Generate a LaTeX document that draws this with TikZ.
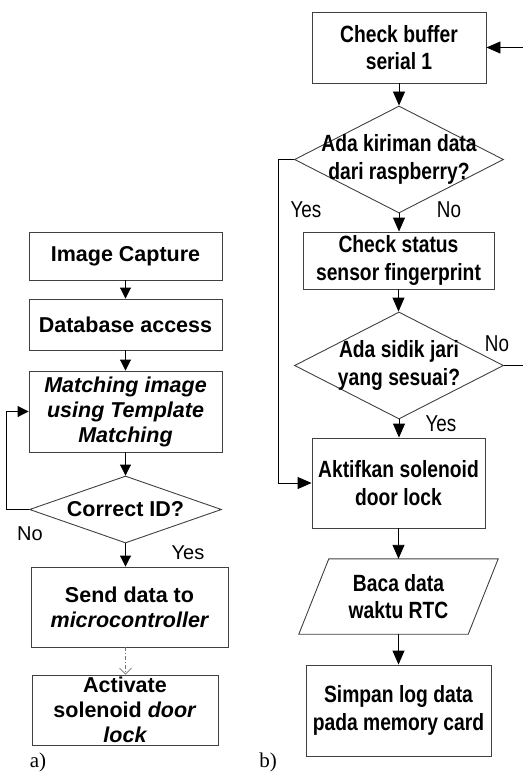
\documentclass[tikz,border=0pt]{standalone}
\usepackage{fontspec}
\setmainfont{Liberation Sans}
\newfontfamily\narrowf[FakeStretch=0.82]{Liberation Sans}
\newfontfamily\serf{Liberation Serif}
\usetikzlibrary{arrows.meta,shapes.geometric}
\begin{document}
\begin{tikzpicture}[x=1pt,y=-1pt,
  lfont/.style={font=\fontsize{21.5}{25}\selectfont\bfseries},
  rfont/.style={font=\narrowf\fontsize{23.5}{27.5}\selectfont\bfseries},
  lbox/.style={draw=black!75, line width=0.9pt, rectangle, inner sep=0pt, align=center, lfont},
  rbox/.style={draw=black!75, line width=0.9pt, rectangle, inner sep=0pt, align=center, rfont},
  dia/.style={draw=black!75, line width=0.9pt, diamond, inner sep=0pt},
  larr/.style={-{Triangle[length=11pt,width=11pt]}, line width=0.9pt},
  rarr/.style={-{Triangle[length=14pt,width=12pt]}, line width=0.9pt},
  plain/.style={line width=0.9pt},
  llab/.style={font=\fontsize{20}{24}\selectfont, inner sep=0pt},
  rlab/.style={font=\narrowf\fontsize{23}{27}\selectfont, inner sep=0pt},
  sublab/.style={font=\serf\fontsize{21}{25}\selectfont, inner sep=0pt}
]
\useasboundingbox (0,0) rectangle (523,784);

% ---------- left flowchart (a) ----------
\node[lbox, minimum width=193pt, minimum height=48pt] (cap) at (125.5,256) {Image Capture};
\node[lbox, minimum width=193pt, minimum height=51pt] (db) at (125.5,324.5) {Database access};
\node[lbox, minimum width=193pt, minimum height=81pt] (match) at (125.5,411.5) {\itshape Matching image\\\itshape using Template\\\itshape Matching};
\node[dia, minimum width=192pt, minimum height=67pt,
  label={[lfont, align=center]center:{Correct ID?}}] (corr) at (125.5,509.5) {};
\node[lbox, minimum width=197pt, minimum height=80pt] (send) at (129.5,607) {Send data to\\\itshape microcontroller};
\node[lbox, minimum width=186pt, minimum height=70pt] (act) at (125,710) {Activate\\solenoid \textit{door}\\\itshape lock};

\draw[larr] (cap) -- (db);
\draw[larr] (db) -- (match);
\draw[larr] (match) -- (corr);
\draw[larr] (corr.west) -- ++(-22.5,0) |- (match.west);
\draw[larr] (corr.south) -- (corr.south |- send.north);
\draw[-{Straight Barb[length=6pt,width=12pt]}, line width=0.6pt, draw=black!55,
  dash pattern=on 4pt off 2pt on 1pt off 2pt] (corr.south |- send.south) -- (corr.south |- act.north);

\node[llab] (no1) at (30,534) {No};
\node[llab] (yes1) at (188,553) {Yes};
\node[sublab] (la) at (38,762) {a)};

% ---------- right flowchart (b) ----------
\node[rbox, minimum width=174pt, minimum height=71pt] (buf) at (399,47.5) {Check buffer\\serial 1};
\node[dia, minimum width=209pt, minimum height=107pt,
  label={[rfont, align=center]center:{Ada kiriman data\\dari raspberry?}}] (d1) at (399,159.5) {};
\node[rbox, minimum width=191pt, minimum height=57pt] (stat) at (398.5,260.5) {Check status\\sensor fingerprint};
\node[dia, minimum width=209pt, minimum height=107pt,
  label={[rfont, align=center]center:{Ada sidik jari\\yang sesuai?}}] (d2) at (399,365.5) {};
\node[rbox, minimum width=173pt, minimum height=90pt] (akt) at (398.5,483) {Aktifkan solenoid\\door lock};
\node[rfont, align=center, inner sep=0pt, minimum width=169pt, minimum height=75pt] (rtc) at (398.5,596.5) {Baca data\\waktu RTC};
\draw[draw=black!75, line width=0.9pt] ([xshift=15pt]rtc.north west) -- ([xshift=15pt]rtc.north east)
  -- ([xshift=-15pt]rtc.south east) -- ([xshift=-15pt]rtc.south west) -- cycle;
\node[rbox, minimum width=185pt, minimum height=91pt] (simp) at (398.5,710.5) {Simpan log data\\pada memory card};

\coordinate (inR) at (523,47.5);
\coordinate (outR) at (523,365.5);

\draw[rarr] (inR) -- (buf.east);
\draw[rarr] (buf) -- (d1);
\draw[rarr] (d1.west) -- ++(-16,0) |- (akt.west);
\draw[rarr] (d1.south) -- (d1.south |- stat.north);
\draw[rarr] (stat.south) -- (stat.south |- d2.north);
\draw[plain] (d2.east) -- (outR);
\draw[rarr] (d2.south) -- (d2.south |- akt.north);
\draw[rarr] (akt.south) -- (rtc.north);
\draw[rarr] (rtc.south) -- (simp.north);

\node[rlab] (yes2) at (306,210) {Yes};
\node[rlab] (no2) at (449,210) {No};
\node[rlab] (no3) at (497,344) {No};
\node[rlab] (yes3) at (441,424) {Yes};
\node[sublab] (lb) at (268,762) {b)};
\end{tikzpicture}
\end{document}
